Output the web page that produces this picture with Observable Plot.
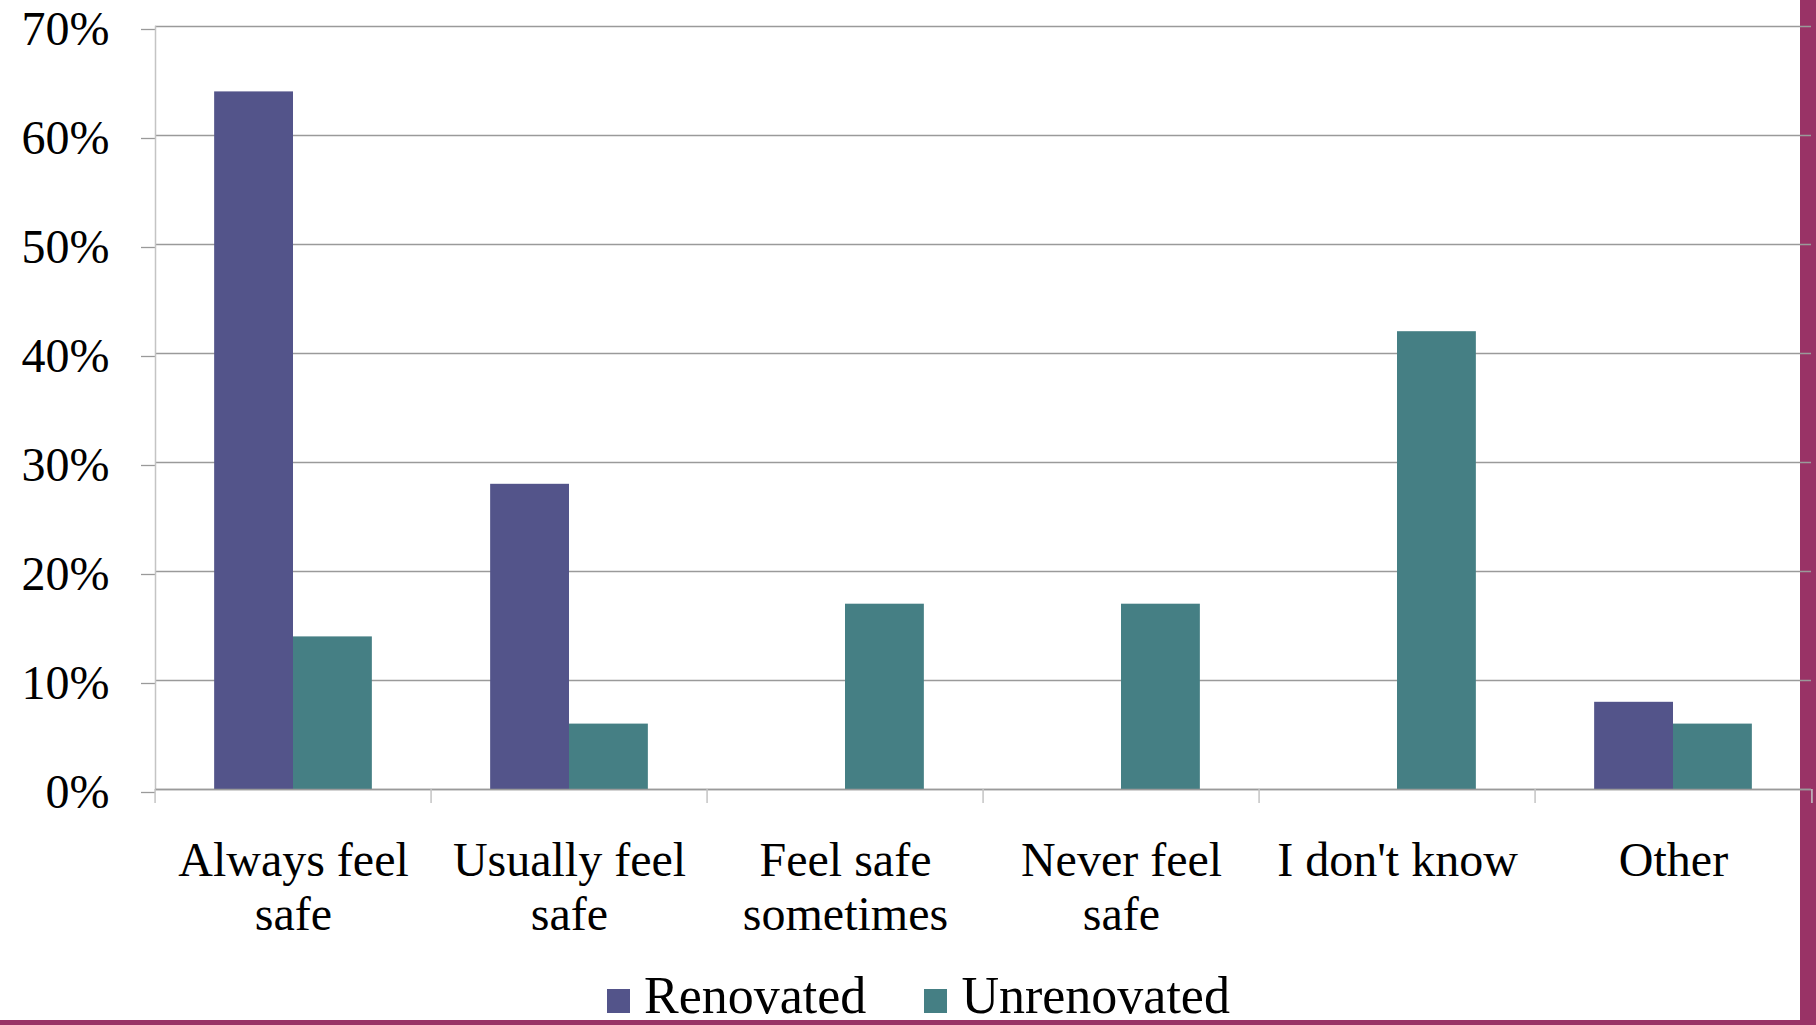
<!DOCTYPE html>
<html>
<head>
<meta charset="utf-8">
<script src="https://cdn.jsdelivr.net/npm/d3@7"></script>
<script src="https://cdn.jsdelivr.net/npm/@observablehq/plot@0.6"></script>
<style>
  html, body { margin: 0; padding: 0; background: #ffffff; }
  #page { position: relative; width: 1816px; height: 1025px; overflow: hidden; background: #ffffff; }
  .band-right { position: absolute; left: 1800px; top: 0; width: 16px; height: 1025px; background: #993366; }
  .band-bottom { position: absolute; left: 0; top: 1020px; width: 1816px; height: 5px; background: #993366; }
  #chart { position: absolute; left: 0; top: 0; width: 1816px; }
  #legend {
    display: flex; align-items: baseline;
    padding-left: 607px; padding-top: 10px;
    font-family: "Liberation Serif", "Times New Roman", serif;
    font-size: 52px; line-height: 1; color: #000;
  }
  #legend .item { display: flex; align-items: baseline; margin-right: 58px; }
  #legend .swatch { display: inline-block; width: 23px; height: 24px; margin-right: 14px; }
</style>
</head>
<body>
<div id="page">
  <div class="band-right"></div>
  <div class="band-bottom"></div>
  <div id="chart"></div>
</div>
<script>
// Survey responses: how safe residents feel (percent of respondents)
const categories = [
  "Always feel safe",
  "Usually feel safe",
  "Feel safe sometimes",
  "Never feel safe",
  "I don't know",
  "Other"
];
const tickLabels = [
  "Always feel\nsafe",
  "Usually feel\nsafe",
  "Feel safe\nsometimes",
  "Never feel\nsafe",
  "I don't know",
  "Other"
];
const series = ["Renovated", "Unrenovated"];
const renovated = [64, 28, 0, 0, 0, 8];
const unrenovated = [14, 6, 17, 17, 42, 6];
const colors = ["#53548a", "#457f84"];
const yTicks = [0, 10, 20, 30, 40, 50, 60, 70];

const rows = categories.flatMap((c, i) => [
  {category: c, series: series[0], value: renovated[i]},
  {category: c, series: series[1], value: unrenovated[i]}
]);

const width = 1816;
const height = 960;
const marginLeft = 152;
const marginRight = 3;
const step = (width - marginLeft - marginRight) / categories.length;

const gridColor = "#9a9a9a";
const axisColor = "#c4c4c4";

const chart = Plot.plot({
  width,
  height,
  marginTop: 26,
  marginLeft,
  marginRight,
  marginBottom: 171,
  style: {
    background: "transparent",
    fontFamily: "'Liberation Serif', 'Times New Roman', serif",
    color: "#000",
    overflow: "visible"
  },
  fx: {domain: categories, padding: 0, axis: null, label: null},
  x: {domain: series, paddingInner: 0, paddingOuter: 0.75, axis: null, round: false, label: null},
  y: {domain: [0, 70], axis: null, label: null},
  color: {domain: series, range: colors},
  marks: [
    Plot.gridY(yTicks, {stroke: gridColor, strokeOpacity: 1, strokeWidth: 1.3}),
    Plot.axisY(yTicks, {
      anchor: "left",
      label: null,
      tickSize: 14,
      tickPadding: 32,
      tickFormat: d => d + "%",
      fontSize: 48,
      dy: 3,
      stroke: gridColor,
      strokeWidth: 1.3
    }),
    Plot.frame({anchor: "left", facet: "super", stroke: axisColor, strokeWidth: 1.5}),
    Plot.barY(rows, {fx: "category", x: "series", y: "value", fill: "series"}),
    Plot.ruleY([0], {stroke: gridColor, strokeWidth: 1.3}),
    // category boundary ticks below the baseline
    Plot.axisFx({anchor: "bottom", label: null, tickSize: 14, text: null, dx: -step / 2, stroke: axisColor, strokeWidth: 1.5}),
    Plot.axisFx({anchor: "bottom", label: null, ticks: [categories[categories.length - 1]], tickSize: 14, text: null, dx: step / 2, stroke: axisColor, strokeWidth: 1.5}),
    // category labels
    Plot.axisFx({
      anchor: "bottom",
      label: null,
      tickSize: 0,
      tickPadding: 48,
      fontSize: 48,
      lineHeight: 1.125,
      tickFormat: d => tickLabels[categories.indexOf(d)]
    })
  ]
});

const host = document.getElementById("chart");
host.appendChild(chart);

const legend = document.createElement("div");
legend.id = "legend";
series.forEach((s, i) => {
  const item = document.createElement("span");
  item.className = "item";
  const sw = document.createElement("span");
  sw.className = "swatch";
  sw.style.background = colors[i];
  const label = document.createElement("span");
  label.textContent = s;
  item.appendChild(sw);
  item.appendChild(label);
  legend.appendChild(item);
});
host.appendChild(legend);
</script>
</body>
</html>
